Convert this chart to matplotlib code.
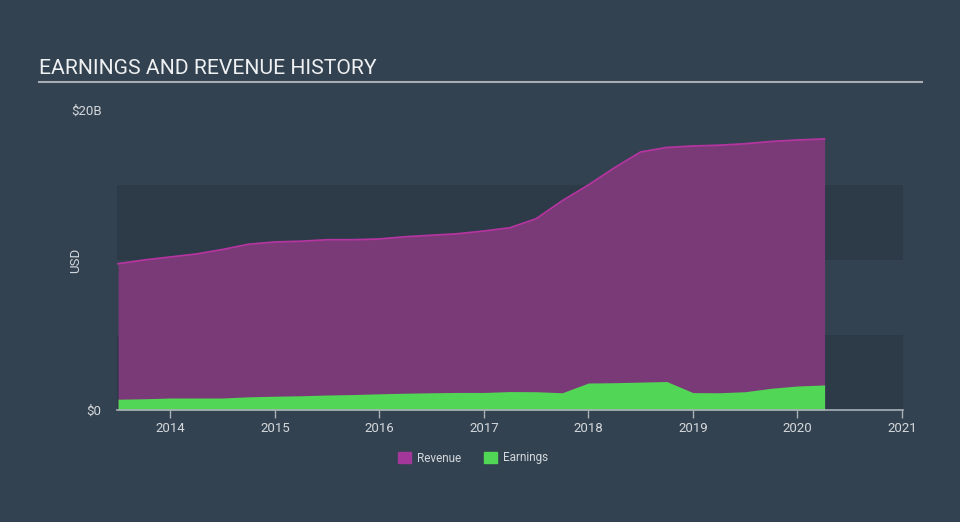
import matplotlib.pyplot as plt
import numpy as np
from matplotlib.patches import Patch

plt.rcParams['font.family'] = ['Roboto', 'DejaVu Sans']

# quarterly points, values in $B
dates = [2013.5, 2013.75, 2014.0, 2014.25, 2014.5, 2014.75, 2015.0, 2015.25,
         2015.5, 2015.75, 2016.0, 2016.25, 2016.5, 2016.75, 2017.0, 2017.25,
         2017.5, 2017.75, 2018.0, 2018.25, 2018.5, 2018.75, 2019.0, 2019.25,
         2019.5, 2019.75, 2020.0, 2020.26]
revenue = [9.75, 10.0, 10.2, 10.4, 10.7, 11.05, 11.2, 11.25,
           11.35, 11.35, 11.4, 11.55, 11.65, 11.75, 11.93, 12.15,
           12.75, 13.95, 15.0, 16.15, 17.2, 17.5, 17.6, 17.65,
           17.75, 17.9, 18.0, 18.07]
earnings = [0.72, 0.75, 0.8, 0.8, 0.8, 0.88, 0.92, 0.95,
            1.0, 1.03, 1.08, 1.12, 1.15, 1.17, 1.17, 1.23,
            1.22, 1.15, 1.8, 1.82, 1.86, 1.9, 1.16, 1.15,
            1.22, 1.45, 1.6, 1.67]
year_ticks = [2014, 2015, 2016, 2017, 2018, 2019, 2020, 2021]

bg = '#334250'
text_col = '#d4d8dc'

fig = plt.figure(figsize=(9.6, 5.22), dpi=100, facecolor=bg)
ax = fig.add_axes([117 / 960, 1 - 410 / 522, 786 / 960, 300 / 522])
ax.set_facecolor('none')

# darker horizontal bands
ax.axhspan(0, 5, color='#2d3a48', zorder=0, lw=0)
ax.axhspan(10, 15, color='#2d3a48', zorder=0, lw=0)

ax.fill_between(dates, 0, revenue, color='#7a3977', lw=0, zorder=1)
ax.plot(dates, revenue, color='#b4359f', lw=1.3, zorder=2)
ax.fill_between(dates, 0, earnings, color='#52d655', lw=0, zorder=3)

ax.set_xlim(2013.49, 2021.01)
ax.set_ylim(0, 20)
ax.set_xticks(year_ticks)
ax.set_xticklabels([str(y) for y in year_ticks])
ax.set_yticks([0, 20])
ax.set_yticklabels(['$0', '$20B'])

for s in ['top', 'right', 'left']:
    ax.spines[s].set_visible(False)
ax.spines['bottom'].set_color('#a9b0b8')
ax.spines['bottom'].set_linewidth(1.2)
ax.spines['bottom'].set_zorder(5)
ax.tick_params(axis='x', colors='#a9b0b8', length=6, width=1, labelcolor=text_col,
               labelsize=9.5, pad=3)
ax.tick_params(axis='y', length=0, labelcolor=text_col, labelsize=9.5, pad=11)
ax.set_ylabel('USD', color=text_col, fontsize=9.5)
ax.yaxis.set_label_coords((82 - 117) / 786, 0.5)

fig.text(39 / 960, 1 - 68 / 522, 'EARNINGS AND REVENUE HISTORY', color='#eef0f2',
         fontsize=15.2, va='center', ha='left')
fig.add_artist(plt.Line2D([39 / 960, 922 / 960], [1 - 82 / 522, 1 - 82 / 522],
                          color='#a7adb4', lw=1.5))

handles = [Patch(color='#a3379a', label='Revenue'), Patch(color='#52d655', label='Earnings')]
fig.legend(handles=handles, loc='center', bbox_to_anchor=(0.493, 1 - 458 / 522), ncol=2,
           frameon=False, fontsize=8.5, labelcolor=text_col, handlelength=1.1,
           handleheight=1.1, handletextpad=0.5, columnspacing=1.95)

fig.savefig('out.png', dpi=100, facecolor=bg)
